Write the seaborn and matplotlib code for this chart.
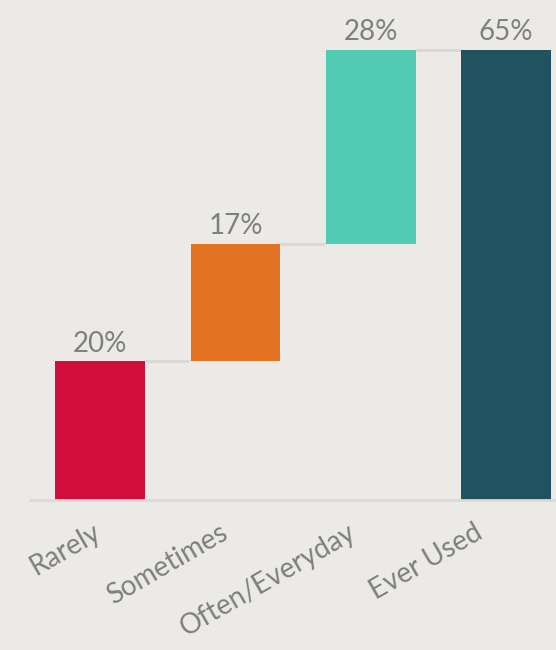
import matplotlib
matplotlib.use("Agg")
import matplotlib.pyplot as plt
import matplotlib.transforms as mtransforms
import seaborn as sns
import numpy as np

categories = ["Rarely", "Sometimes", "Often/Everyday", "Ever Used"]
step_values = [20, 17, 28]
total_label = "Ever Used"
colors = ["#D20F3C", "#E37222", "#52CBB4", "#20525F"]

bg = "#ECEAE6"
txt = "#7F7F7F"

total = sum(step_values)
tops = list(np.cumsum(step_values)) + [total]
bottoms = [0] + list(np.cumsum(step_values)[:-1]) + [0]
labels = [f"{v}%" for v in step_values] + [f"{total}%"]

sns.set_theme(style="white")
plt.rcParams["font.family"] = ["Lato", "DejaVu Sans"]

fig = plt.figure(figsize=(5.56, 6.5), dpi=100, facecolor=bg)
ax = fig.add_axes([30 / 556, 150 / 650, 526 / 556, 500 / 650])
ax.set_facecolor(bg)

sns.barplot(x=categories, y=tops, hue=categories, palette=colors,
            legend=False, width=0.664, saturation=1, ax=ax, zorder=2,
            linewidth=0, edgecolor="none")
# mask lower part of floating bars with background
sns.barplot(x=categories, y=bottoms, color=bg, width=0.67, saturation=1,
            ax=ax, zorder=3, linewidth=0, edgecolor="none")

bars = ax.patches[:4]
# connectors
for i in range(len(bars) - 1):
    x0 = bars[i].get_x() + bars[i].get_width()
    x1 = bars[i + 1].get_x()
    ax.plot([x0, x1], [tops[i], tops[i]], color="#DAD8D5", lw=2, zorder=1,
            solid_capstyle="butt")

ax.axhline(0, color="#DCDAD7", lw=2, zorder=4, clip_on=False)

for b, t, lab in zip(bars, tops, labels):
    ax.annotate(lab, (b.get_x() + b.get_width() / 2, t), xytext=(0, 7),
                textcoords="offset points", ha="center", va="baseline",
                fontsize=20, color=txt)

ax.set_xlim(-0.52, 3.37)
ax.set_ylim(0, 72.2)
for s in ax.spines.values():
    s.set_visible(False)
ax.set_yticks([])
ax.set_xlabel("")
ax.tick_params(axis="x", length=0, pad=14, labelsize=20, labelcolor=txt)
for i, lbl in enumerate(ax.get_xticklabels()):
    lbl.set_rotation(30)
    lbl.set_ha("right")
    lbl.set_rotation_mode("anchor")
    dx = -(8 + 8 * i) / 100.0
    lbl.set_transform(lbl.get_transform() +
                      mtransforms.ScaledTranslation(dx, 0, fig.dpi_scale_trans))

fig.savefig("out.png", dpi=100, facecolor=bg)
